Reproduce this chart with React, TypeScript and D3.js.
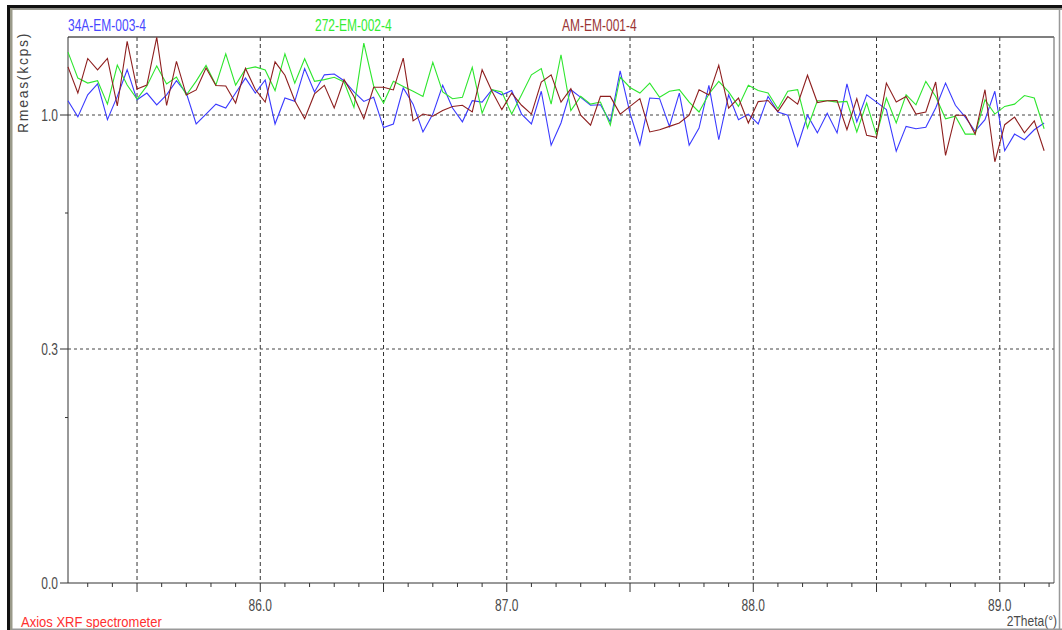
import React from "react";
import * as d3 from "d3";

// scan: 2Theta start and step (degrees)
const scanStart = 85.22;
const scanStep = 0.04;

const seriesNames = ["34A-EM-003-4", "272-EM-002-4", "AM-EM-001-4"];

const blue34A = [
  1.062, 0.992, 1.088, 1.137, 0.98, 1.081, 1.203, 1.066, 1.096, 1.044,
  1.088, 1.152, 1.096, 0.962, 1.004, 1.047, 1.03, 1.096, 1.164, 1.096,
  1.155, 0.962, 1.074, 1.059, 1.208, 1.101, 1.179, 1.183, 1.152, 1.101,
  1.059, 1.077, 0.947, 0.962, 1.119, 1.047, 0.929, 1.004, 1.131, 1.03,
  0.971, 1.062, 1.056, 1.111, 1.088, 1.107, 1.004, 0.962, 1.104, 0.875,
  0.966, 1.111, 1.077, 1.042, 1.044, 0.971, 1.198, 1.008, 0.877, 1.074,
  1.071, 0.952, 1.096, 0.875, 0.945, 1.131, 0.897, 1.088, 0.98, 1.004,
  0.962, 1.081, 1.013, 0.999, 0.871, 0.999, 0.925, 1.008, 0.925, 1.137,
  0.971, 1.088, 1.056, 1.023, 0.851, 0.952, 0.942, 0.948, 1.03, 1.141,
  1.042, 0.991, 0.932, 0.98, 1.104, 0.853, 0.92, 0.897, 0.938, 0.966,
];

const green272 = [
  1.287, 1.164, 1.141, 1.152, 1.047, 1.225, 1.132, 1.069, 1.128, 1.221,
  1.137, 1.169, 1.087, 1.15, 1.223, 1.132, 1.278, 1.132, 1.206, 1.216,
  1.202, 1.107, 1.278, 1.141, 1.255, 1.149, 1.157, 1.168, 1.146, 1.033,
  1.331, 1.128, 1.052, 1.149, 1.126, 1.104, 1.081, 1.238, 1.101, 1.071,
  1.077, 1.214, 1.008, 1.111, 1.101, 1.004, 1.088, 1.179, 1.208, 1.047,
  1.274, 1.019, 1.081, 1.047, 1.056, 0.957, 1.168, 1.121, 1.096, 1.141,
  1.077, 1.104, 1.111, 1.056, 1.013, 1.092, 1.149, 1.101, 1.037, 1.131,
  1.107, 1.096, 1.027, 1.104, 1.111, 0.945, 1.062, 1.062, 1.056, 1.059,
  0.929, 1.052, 0.915, 1.074, 0.966, 1.088, 1.044, 1.149, 1.081, 0.984,
  0.995, 0.92, 0.92, 1.066, 1.004, 1.037, 1.047, 1.085, 1.074, 0.942,
];

const brownAM = [
  1.216, 1.096, 1.256, 1.202, 1.256, 1.039, 1.339, 1.114, 1.132, 1.359,
  1.041, 1.242, 1.087, 1.11, 1.211, 1.13, 1.128, 1.052, 1.209, 1.112,
  1.056, 1.24, 1.177, 1.062, 0.984, 1.092, 1.131, 1.03, 1.157, 1.081,
  0.984, 1.122, 1.122, 1.11, 1.258, 0.975, 1.004, 0.995, 1.019, 1.037,
  1.042, 1.013, 1.203, 1.104, 1.023, 1.096, 1.042, 1.004, 1.146, 1.179,
  1.056, 1.116, 0.999, 0.957, 1.081, 1.081, 1.004, 1.037, 1.071, 0.929,
  0.938, 0.952, 0.966, 0.999, 1.111, 1.087, 1.224, 1.03, 1.074, 0.966,
  1.058, 1.063, 1.015, 1.08, 1.047, 1.177, 1.054, 1.062, 1.063, 0.938,
  1.071, 0.915, 0.907, 1.141, 1.056, 1.081, 1.004, 1.013, 1.146, 0.835,
  0.999, 0.999, 0.92, 1.111, 0.81, 0.959, 0.991, 0.925, 0.975, 0.853,
];

const yMajorTicks = [0, 0.25, 1.0];
const yMajorLabels = ["0.0", "0.3", "1.0"];
const yMinorTicks = [0.125, 0.625];
const xLabelTicks = [86, 87, 88, 89];

const W = 1062;
const H = 630;
const left = 68;
const right = 1054;
const top = 37;
const bottom = 583;

const FONT = "'Liberation Sans', Arial, sans-serif";

function Txt(props: {
  x: number;
  y: number;
  children: React.ReactNode;
  anchor?: string;
  fill?: string;
  size?: number;
  sy?: number;
}) {
  const { x, y, children, anchor = "start", fill = "#4a4a4a", size = 12, sy = 1.3 } = props;
  return (
    <text
      transform={`translate(${x},${y}) scale(1,${sy})`}
      textAnchor={anchor}
      fill={fill}
      fontSize={size}
      fontFamily={FONT}
    >
      {children}
    </text>
  );
}

export default function App() {
  const x = d3.scaleLinear().domain([85.22, 89.22]).range([left, right]);
  const y = d3.scaleSqrt().domain([0, 1]).range([bottom, 115]);

  const xs = d3.range(blue34A.length).map((i) => scanStart + scanStep * i);
  // minor ticks every 0.1 deg, major ticks / grid every 0.5 deg
  const minorX = d3.range(853, 893).map((v) => v / 10).filter((v) => Math.round(v * 10) % 5 !== 0);
  const majorX = d3.range(171, 179).map((v) => v / 2);

  const line = d3
    .line<number>()
    .x((_, i) => x(xs[i]))
    .y((d) => y(d));

  const series = [
    { name: seriesNames[0], data: blue34A, color: "#3a3aff", text: "#4848ff", lx: 68 },
    { name: seriesNames[1], data: green272, color: "#2ee62e", text: "#33ee33", lx: 315 },
    { name: seriesNames[2], data: brownAM, color: "#8e1f1f", text: "#9a3535", lx: 562 },
  ];

  return (
    <svg
      width={W}
      height={H}
      style={{ position: "fixed", left: 0, top: 0, background: "#fff" }}
    >
      <rect x={0} y={0} width={W} height={H} fill="#fff" />
      {/* window frame */}
      <rect x={7} y={5} width={W - 7} height={3.5} fill="#111" />
      <rect x={7} y={8.5} width={W - 7} height={1.5} fill="#9a9a90" />
      <rect x={7} y={5} width={3} height={H - 5} fill="#111" />
      <rect x={10} y={8} width={2.5} height={H - 8} fill="#9a9a8a" />
      <line x1={1059.5} y1={9} x2={1059.5} y2={H} stroke="#999" strokeWidth={1.5} />

      {/* grid */}
      {majorX.map((v) => (
        <line
          key={"gx" + v}
          x1={x(v)}
          x2={x(v)}
          y1={top}
          y2={bottom}
          stroke="#333"
          strokeWidth={1}
          strokeDasharray="4,3"
        />
      ))}
      {yMajorTicks
        .filter((v) => v > 0)
        .map((v) => (
          <line
            key={"gy" + v}
            x1={left}
            x2={right}
            y1={y(v)}
            y2={y(v)}
            stroke="#444"
            strokeWidth={1}
            strokeDasharray="3,3"
          />
        ))}

      {/* plot frame */}
      <line x1={left} x2={right} y1={top} y2={top} stroke="#555" strokeWidth={1.5} />
      <line x1={right} x2={right} y1={top} y2={bottom} stroke="#777" strokeWidth={1.2} />
      <line x1={left} x2={left} y1={top} y2={bottom} stroke="#333" strokeWidth={1} />
      <line x1={left} x2={right} y1={bottom} y2={bottom} stroke="#333" strokeWidth={1} />

      {/* x ticks */}
      {minorX.map((v) => (
        <line key={"mx" + v} x1={x(v)} x2={x(v)} y1={bottom} y2={bottom + 4} stroke="#333" />
      ))}
      {majorX.map((v) => (
        <line key={"Mx" + v} x1={x(v)} x2={x(v)} y1={bottom} y2={bottom + 9} stroke="#333" />
      ))}
      {xLabelTicks.map((v) => (
        <Txt key={"lx" + v} x={x(v)} y={611} anchor="middle">
          {d3.format(".1f")(v)}
        </Txt>
      ))}

      {/* y ticks */}
      {yMajorTicks.map((v, i) => (
        <g key={"My" + v}>
          <line x1={left - 8} x2={left} y1={y(v)} y2={y(v)} stroke="#333" />
          <Txt x={58} y={y(v) + 6} anchor="end">
            {yMajorLabels[i]}
          </Txt>
        </g>
      ))}
      {yMinorTicks.map((v) => (
        <line key={"my" + v} x1={left - 3} x2={left} y1={y(v)} y2={y(v)} stroke="#333" />
      ))}

      {/* series */}
      {series.map((s) => (
        <path
          key={s.name}
          d={line(s.data) || ""}
          fill="none"
          stroke={s.color}
          strokeWidth={1.1}
          strokeLinejoin="miter"
        />
      ))}

      {/* legend */}
      {series.map((s) => (
        <Txt key={"lg" + s.name} x={s.lx} y={31} fill={s.text}>
          {s.name}
        </Txt>
      ))}

      {/* axis titles */}
      <text
        transform="translate(28,133) rotate(-90)"
        fontSize={14}
        letterSpacing={1.7}
        fontFamily={FONT}
        fill="#444"
      >
        Rmeas(kcps)
      </text>
      <Txt x={1057} y={626} anchor="end" sy={1.2}>
        2Theta(°)
      </Txt>
      <Txt x={21} y={627} fill="#ff3030" size={13} sy={1.15}>
        Axios XRF spectrometer
      </Txt>
      <line x1={12} x2={W} y1={629.2} y2={629.2} stroke="#9a9a9a" strokeWidth={1.5} />
    </svg>
  );
}
